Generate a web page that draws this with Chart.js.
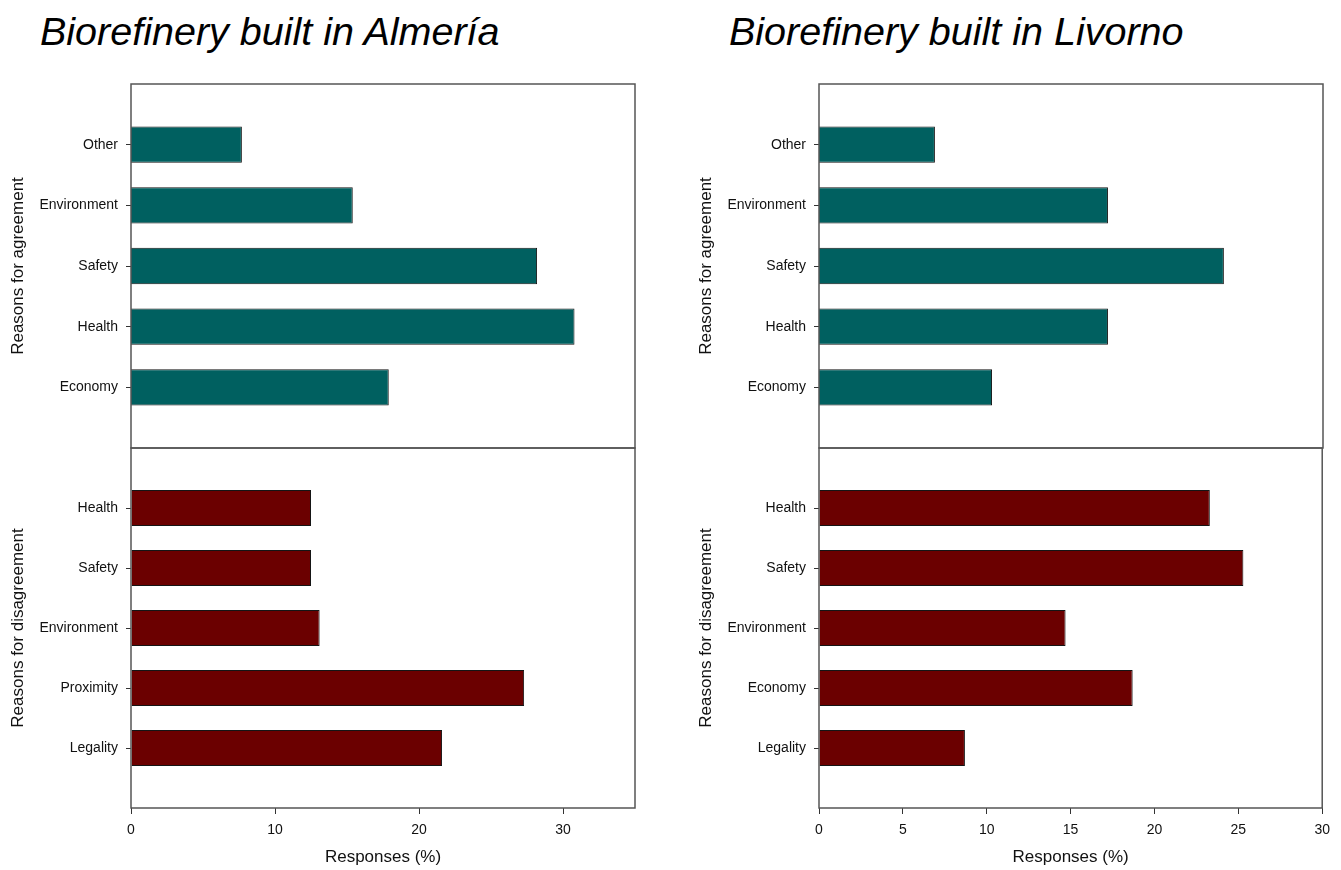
<!DOCTYPE html>
<html><head><meta charset="utf-8">
<script src="https://cdn.jsdelivr.net/npm/chart.js@4"></script>
<style>
html,body{margin:0;padding:0;background:#fff;}
#wrap{position:relative;width:1341px;height:870px;overflow:hidden;background:#fff;}
.title{position:absolute;font-family:"Liberation Sans",Arial,sans-serif;font-style:italic;font-size:39.5px;line-height:39.5px;color:#000;white-space:nowrap;}
canvas{position:absolute;}
</style></head><body>
<div id="wrap">
<div class="title" style="left:40px;top:12px">Biorefinery built in Almería</div>
<div class="title" style="left:729px;top:12px">Biorefinery built in Livorno</div>
<canvas id="la" width="650" height="372" style="left:0px;top:80px"></canvas>
<canvas id="ld" width="650" height="426" style="left:0px;top:444px"></canvas>
<canvas id="ra" width="650" height="372" style="left:688px;top:80px"></canvas>
<canvas id="rd" width="650" height="426" style="left:688px;top:444px"></canvas>
</div>
<script>
// ---- data ----
const almeriaAgreeCats = ['Other', 'Environment', 'Safety', 'Health', 'Economy'];
const almeriaAgreeVals = [7.7, 15.4, 28.2, 30.8, 17.9];
const almeriaDisagreeCats = ['Health', 'Safety', 'Environment', 'Proximity', 'Legality'];
const almeriaDisagreeVals = [12.5, 12.5, 13.1, 27.3, 21.6];
const livornoAgreeCats = ['Other', 'Environment', 'Safety', 'Health', 'Economy'];
const livornoAgreeVals = [6.9, 17.2, 24.1, 17.2, 10.3];
const livornoDisagreeCats = ['Health', 'Safety', 'Environment', 'Economy', 'Legality'];
const livornoDisagreeVals = [23.3, 25.3, 14.7, 18.7, 8.7];
const almeriaXTicks = [0, 10, 20, 30];
const almeriaXMax = 35;
const livornoXTicks = [0, 5, 10, 15, 20, 25, 30];
const livornoXMax = 30;
const agreeTitle = 'Reasons for agreement';
const disagreeTitle = 'Reasons for disagreement';
const xTitle = 'Responses (%)';

const AGREE_COLOR = '#006060';
const DISAGREE_COLOR = '#6b0000';
const FONT = '"Liberation Sans", Arial, sans-serif';

const framePlugin = {
  id: 'frame',
  afterDraw(chart) {
    const {ctx, chartArea: a} = chart;
    ctx.save();
    ctx.strokeStyle = '#555555';
    ctx.lineWidth = 1.5;
    ctx.strokeRect(a.left, a.top, a.right - a.left, a.bottom - a.top);
    ctx.restore();
  }
};

function makeChart(id, cats, vals, color, yTitle, xTicks, xMax, showX) {
  const labels = [''].concat(cats, ['']);
  const data = [null].concat(vals, [null]);
  const last = labels.length - 1;
  new Chart(document.getElementById(id), {
    type: 'bar',
    data: {
      labels: labels,
      datasets: [{
        data: data,
        backgroundColor: color,
        borderColor: '#151515',
        borderWidth: 1,
        barPercentage: 0.6,
        categoryPercentage: 1.0
      }]
    },
    options: {
      indexAxis: 'y',
      responsive: false,
      animation: false,
      events: [],
      layout: {padding: {left: 0, right: 15, top: 4, bottom: showX ? 0 : 4}},
      plugins: {legend: {display: false}, tooltip: {enabled: false}},
      scales: {
        y: {
          type: 'category',
          offset: false,
          afterFit: s => { s.width = 131; s.paddingTop = 0; s.paddingBottom = 0; },
          grid: {
            display: true,
            offset: false,
            drawOnChartArea: false,
            drawTicks: true,
            tickLength: 5,
            tickWidth: 1,
            tickColor: c => (c.index === 0 || c.index === last) ? 'rgba(0,0,0,0)' : '#333333'
          },
          border: {display: false},
          ticks: {
            autoSkip: false,
            padding: 8,
            color: '#111111',
            font: {family: FONT, size: 14}
          },
          title: {
            display: true,
            text: yTitle,
            color: '#111111',
            font: {family: FONT, size: 17},
            padding: {top: 8, bottom: 0}
          }
        },
        x: {
          type: 'linear',
          display: showX,
          min: 0,
          max: xMax,
          afterBuildTicks: s => { s.ticks = xTicks.map(v => ({value: v})); },
          afterFit: s => { if (showX) s.height = 62; },
          grid: {
            display: true,
            drawOnChartArea: false,
            drawTicks: true,
            tickLength: 6,
            tickWidth: 1,
            tickColor: '#333333'
          },
          border: {display: false},
          ticks: {
            padding: 8,
            maxRotation: 0,
            color: '#111111',
            font: {family: FONT, size: 14}
          },
          title: {
            display: true,
            text: xTitle,
            color: '#111111',
            font: {family: FONT, size: 17},
            padding: {top: 0, bottom: 2}
          }
        }
      }
    },
    plugins: [framePlugin]
  });
}

makeChart('la', almeriaAgreeCats, almeriaAgreeVals, AGREE_COLOR, agreeTitle, almeriaXTicks, almeriaXMax, false);
makeChart('ld', almeriaDisagreeCats, almeriaDisagreeVals, DISAGREE_COLOR, disagreeTitle, almeriaXTicks, almeriaXMax, true);
makeChart('ra', livornoAgreeCats, livornoAgreeVals, AGREE_COLOR, agreeTitle, livornoXTicks, livornoXMax, false);
makeChart('rd', livornoDisagreeCats, livornoDisagreeVals, DISAGREE_COLOR, disagreeTitle, livornoXTicks, livornoXMax, true);
</script>
</body></html>
